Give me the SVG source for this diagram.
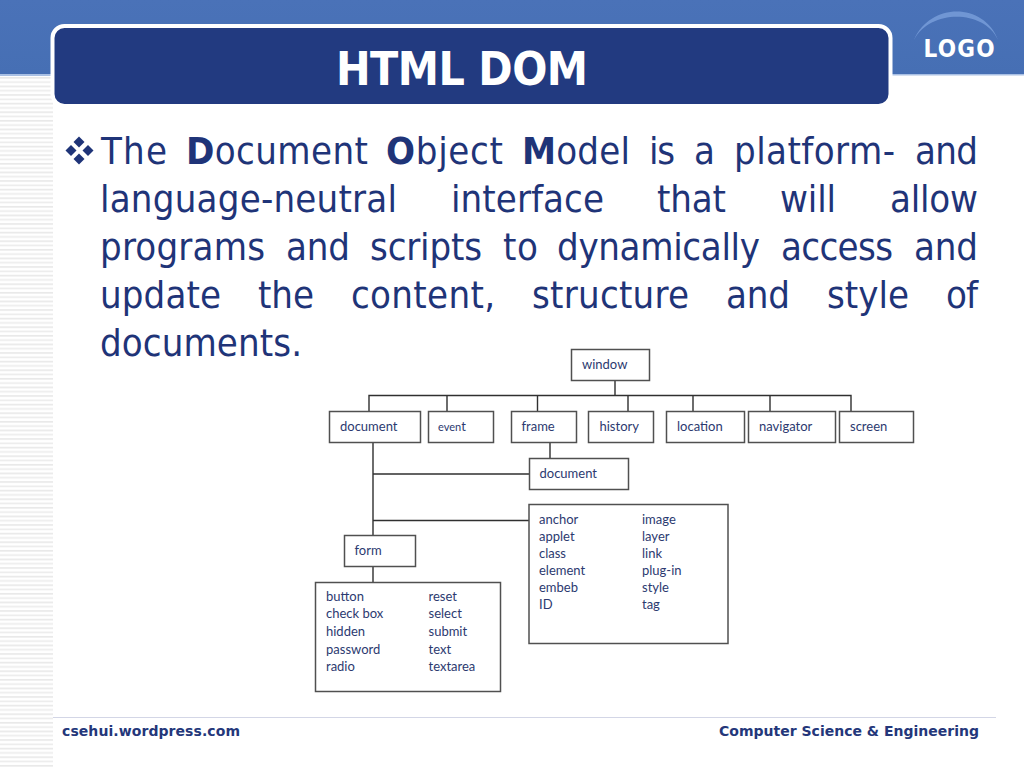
<svg xmlns="http://www.w3.org/2000/svg" width="1024" height="768" viewBox="0 0 1024 768">
<style>
.b{font-family:"DejaVu Sans",sans-serif;font-stretch:condensed;font-size:38px;fill:#1f3478}
.bb{font-weight:700}
.n{fill:#fff;stroke:#505050;stroke-width:1.5}
.l{font:13px Lato,"Noto Sans",sans-serif;fill:#2c3a70}
.c{fill:none;stroke:#303030;stroke-width:1.4}
.f{font:bold 14px "DejaVu Sans",sans-serif;fill:#24377a}
</style>
<defs>
<pattern id="st" width="54" height="8.6" patternUnits="userSpaceOnUse" y="76">
<rect width="54" height="8.6" fill="#fff"/><rect y="1" width="54" height="1.6" fill="#e8e8e8"/><rect y="5.3" width="54" height="1.6" fill="#ececec"/>
</pattern>
<linearGradient id="hd" x1="0" y1="0" x2="0" y2="1"><stop offset="0" stop-color="#4a72b8"/><stop offset="1" stop-color="#466fb4"/></linearGradient>
</defs>
<rect width="1024" height="768" fill="#fff"/>
<rect y="76" width="53" height="692" fill="url(#st)"/>
<rect width="1024" height="74" fill="url(#hd)"/>
<rect y="74" width="53" height="2" fill="#a9c0e4"/>
<rect x="892" y="74" width="132" height="1.5" fill="#a9c0e4"/>
<rect x="52.500" y="26" width="838" height="80" rx="12" fill="#223a80" stroke="#fff" stroke-width="4"/>
<text x="462" y="85" text-anchor="middle" font-family="DejaVu Sans" font-stretch="condensed" font-weight="700" font-size="46" fill="#fff" textLength="252">HTML DOM</text>
<path d="M914 40C930 2 984 2 998 40C984 9 930 9 914 40Z" fill="#7096d4"/>
<text x="959" y="57" text-anchor="middle" font-family="DejaVu Sans" font-stretch="condensed" font-weight="700" font-size="24" fill="#fff" textLength="71">LOGO</text>
<g fill="#1f3478"><path d="M79 136.500l5.500 5.500-5.500 5.500-5.500-5.500z"/><path d="M79 153.500l5.500 5.500-5.500 5.500-5.500-5.500z"/><path d="M71 145l5.500 5.500-5.500 5.500-5.500-5.500z"/><path d="M88 145l5.500 5.500-5.500 5.500-5.500-5.500z"/></g>
<g class="b">
<text x="101" y="164" textLength="66">The</text>
<text x="186" y="164" textLength="182"><tspan class="bb">D</tspan>ocument</text>
<text x="386" y="164" textLength="117"><tspan class="bb">O</tspan>bject</text>
<text x="522" y="164" textLength="108"><tspan class="bb">M</tspan>odel</text>
<text x="649" y="164" textLength="26">is</text>
<text x="694" y="164" textLength="20">a</text>
<text x="734" y="164" textLength="161">platform-</text>
<text x="915" y="164" textLength="63">and</text>
<text x="100" y="212" textLength="297">language-neutral</text>
<text x="451" y="212" textLength="153">interface</text>
<text x="657" y="212" textLength="69">that</text>
<text x="780" y="212" textLength="56">will</text>
<text x="890" y="212" textLength="88">allow</text>
<text x="100" y="260" textLength="165">programs</text>
<text x="286" y="260" textLength="64">and</text>
<text x="370" y="260" textLength="112">scripts</text>
<text x="503" y="260" textLength="35">to</text>
<text x="557" y="260" textLength="203">dynamically</text>
<text x="781" y="260" textLength="112">access</text>
<text x="914" y="260" textLength="64">and</text>
<text x="100" y="308" textLength="121">update</text>
<text x="258" y="308" textLength="56">the</text>
<text x="351" y="308" textLength="144">content,</text>
<text x="532" y="308" textLength="157">structure</text>
<text x="726" y="308" textLength="64">and</text>
<text x="827" y="308" textLength="82">style</text>
<text x="946" y="308" textLength="32">of</text>
<text x="100" y="356" textLength="202">documents.</text>
</g>
<g id="connectors" class="c">
<path d="M615 381V395.500M369 411V395.500H693M693 395.500H851V411M447 395.500V411M537.500 395.500V411M628 395.500V411M693 395.500V411M770 395.500V411"/>
<path d="M373 443V566M550 443V458M373 474H529M373 520.500H529M373 566V582"/>
</g>
<g id="window"><rect class="n" x="571.500" y="349.500" width="78" height="31"/><text class="l" x="582" y="368.500">window</text></g>
<g id="document1"><rect class="n" x="329.500" y="411.500" width="91" height="31"/><text class="l" x="340" y="430.500">document</text></g>
<g id="event"><rect class="n" x="428.500" y="411.500" width="65" height="31"/><text class="l" x="438" y="431"><tspan font-size="11">even</tspan>t</text></g>
<g id="frame"><rect class="n" x="511.500" y="411.500" width="65" height="31"/><text class="l" x="521.500" y="430.500">frame</text></g>
<g id="history"><rect class="n" x="588.500" y="411.500" width="65" height="31"/><text class="l" x="599.500" y="430.500">history</text></g>
<g id="location"><rect class="n" x="666.500" y="411.500" width="78" height="31"/><text class="l" x="677" y="430.500">location</text></g>
<g id="navigator"><rect class="n" x="748.500" y="411.500" width="87" height="31"/><text class="l" x="759" y="430.500">navigator</text></g>
<g id="screen"><rect class="n" x="839.500" y="411.500" width="74" height="31"/><text class="l" x="850" y="430.500">screen</text></g>
<g id="document2"><rect class="n" x="529.500" y="458.500" width="99" height="31"/><text class="l" x="539.500" y="477.500">document</text></g>
<g id="properties"><rect class="n" x="529" y="504.500" width="199" height="139"/>
<g class="l"><text x="539" y="523.500">anchor</text><text x="539" y="541">applet</text><text x="539" y="557.500">class</text><text x="539" y="575">element</text><text x="539" y="592">embeb</text><text x="539" y="609">ID</text>
<text x="642" y="523.500">image</text><text x="642" y="541">layer</text><text x="642" y="557.500">link</text><text x="642" y="575">plug-in</text><text x="642" y="592">style</text><text x="642" y="609">tag</text></g></g>
<g id="form"><rect class="n" x="344.500" y="535.500" width="71" height="31"/><text class="l" x="354.500" y="554.500">form</text></g>
<g id="controls"><rect class="n" x="315.500" y="582.500" width="185" height="109"/>
<g class="l"><text x="326" y="601">button</text><text x="326" y="618">check box</text><text x="326" y="635.500">hidden</text><text x="326" y="654">password</text><text x="326" y="671">radio</text>
<text x="428.500" y="601">reset</text><text x="428.500" y="618">select</text><text x="428.500" y="635.500">submit</text><text x="428.500" y="654">text</text><text x="428.500" y="671">textarea</text></g></g>
<rect x="53" y="717" width="943" height="1" fill="#d3d6e6"/>
<text class="f" x="62" y="736" textLength="178">csehui.wordpress.com</text>
<text class="f" x="719" y="736" textLength="260">Computer Science &amp; Engineering</text>
</svg>
